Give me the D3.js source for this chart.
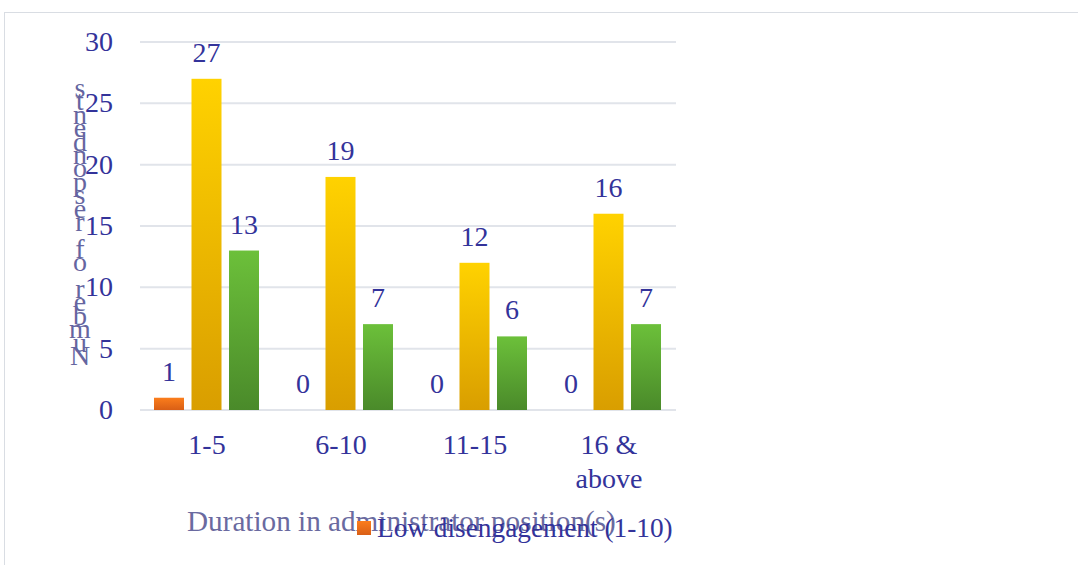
<!DOCTYPE html>
<html><head><meta charset="utf-8">
<script src="https://cdn.jsdelivr.net/npm/d3@7"></script>
<style>body{margin:0;background:#fff}svg{display:block}</style>
</head><body>
<svg id="c" width="1078" height="565"></svg>
<script>
const categories = [["1-5"],["6-10"],["11-15"],["16 &","above"]];
const seriesNames = ["Low disengagement (1-10)","Moderate disengagement (11-20)","High disengagement (21-30)"];
const lowVals = [1,0,0,0];
const modVals = [27,19,12,16];
const highVals = [13,7,6,7];
const yTicks = [0,5,10,15,20,25,30];
const yTitle = "Number of respondents";
const xTitle = "Duration in administrator position(s)";

(function(){
const svg = d3.select("#c");
const pLeft=140,pRight=676,pTop=42,pBottom=410;
const blue="#33339a";
const serif="'Liberation Serif','Times New Roman',serif";

svg.append("rect").attr("x",4.5).attr("y",12.5).attr("width",1080).attr("height",560)
  .attr("fill","none").attr("stroke","#d9dde3").attr("stroke-width",1);

const defs=svg.append("defs");
const grads=[["g0","#fb7d1c","#d95f16"],["g1","#ffd200","#d99e00"],["g2","#6cc03a","#4a8a2a"]];
grads.forEach(([id,a,b])=>{
  const g=defs.append("linearGradient").attr("id",id).attr("x1",0).attr("y1",0).attr("x2",0).attr("y2",1);
  g.append("stop").attr("offset","0%").attr("stop-color",a);
  g.append("stop").attr("offset","100%").attr("stop-color",b);
});

const x=d3.scaleBand().domain(d3.range(categories.length)).range([pLeft,pRight]).padding(0);
const y=d3.scaleLinear().domain([0,30]).range([pBottom,pTop]);

svg.append("g").selectAll("line").data(yTicks).join("line")
  .attr("x1",pLeft).attr("x2",pRight).attr("y1",d=>y(d)).attr("y2",d=>y(d))
  .attr("stroke","#e1e4ea").attr("stroke-width",2);

svg.append("g").selectAll("text").data(yTicks).join("text")
  .attr("x",113).attr("y",d=>y(d)+9).attr("text-anchor","end")
  .attr("font-family",serif).attr("font-size",28).attr("fill",blue).text(d=>d);

const series=[lowVals,modVals,highVals];
series.forEach((vals,si)=>{
  const g=svg.append("g");
  vals.forEach((v,ci)=>{
    const bx=x(ci)+14+si*37.5;
    if(v>0){
      g.append("rect").attr("x",bx).attr("y",y(v)).attr("width",30).attr("height",y(0)-y(v))
        .attr("fill",`url(#g${si})`);
    }
    g.append("text").attr("x",bx+15).attr("y",y(v)-17).attr("text-anchor","middle")
      .attr("font-family",serif).attr("font-size",28).attr("fill",blue).text(v);
  });
});

categories.forEach((lines,ci)=>{
  const cx=x(ci)+x.bandwidth()/2;
  const t=svg.append("text").attr("x",cx).attr("y",454)
    .attr("text-anchor","middle").attr("font-family",serif).attr("font-size",28).attr("fill",blue);
  lines.forEach((l,i)=>t.append("tspan").attr("x",cx).attr("dy",i?34:0).text(l));
});

const chars=yTitle.split("").reverse();
const yt=svg.append("g");
chars.forEach((ch,i)=>{
  yt.append("text").attr("x",80).attr("y",97+i*13.4).attr("text-anchor","middle")
    .attr("font-family",serif).attr("font-size",28).attr("fill","#6565a0").text(ch);
});

svg.append("text").attr("x",187).attr("y",531).attr("font-family",serif).attr("font-size",29.2)
  .attr("fill","#6a6aa0").text(xTitle);

svg.append("rect").attr("x",357).attr("y",521).attr("width",14).attr("height",14).attr("fill","url(#g0)");
svg.append("text").attr("x",377).attr("y",537).attr("font-family",serif).attr("font-size",27.3)
  .attr("fill",blue).text(seriesNames[0]);
})();
</script>
</body></html>
